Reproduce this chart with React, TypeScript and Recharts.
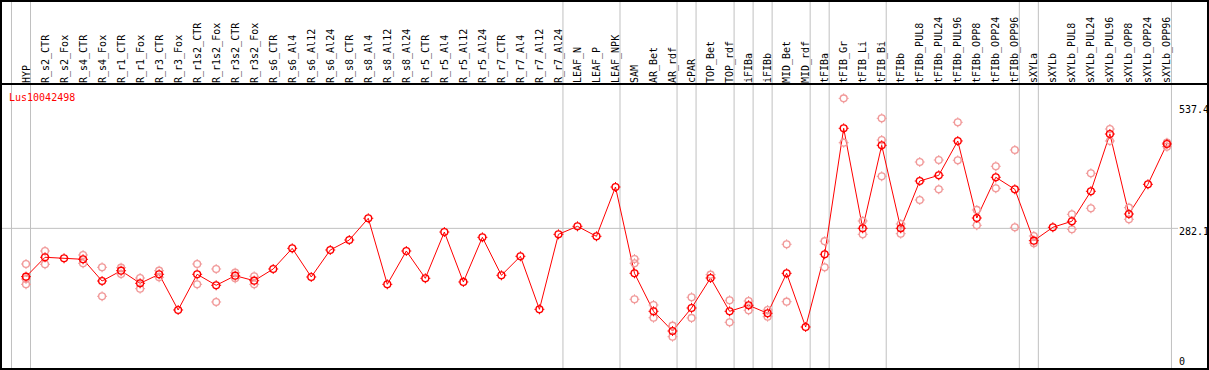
import { ComposedChart, Line, Scatter, XAxis, YAxis, ReferenceLine } from 'recharts';

const sampleName = 'Lus10042498';

const categories = [
  'HYP',
  'R_s2_CTR', 'R_s2_Fox', 'R_s4_CTR', 'R_s4_Fox', 'R_r1_CTR', 'R_r1_Fox', 'R_r3_CTR', 'R_r3_Fox',
  'R_r1s2_CTR', 'R_r1s2_Fox', 'R_r3s2_CTR', 'R_r3s2_Fox',
  'R_s6_CTR', 'R_s6_Al4', 'R_s6_Al12', 'R_s6_Al24', 'R_s8_CTR', 'R_s8_Al4', 'R_s8_Al12', 'R_s8_Al24',
  'R_r5_CTR', 'R_r5_Al4', 'R_r5_Al12', 'R_r5_Al24', 'R_r7_CTR', 'R_r7_Al4', 'R_r7_Al12', 'R_r7_Al24',
  'LEAF_N', 'LEAF_P', 'LEAF_NPK',
  'SAM', 'AR_Bet', 'AR_rdf', 'cPAR', 'TOP_Bet', 'TOP_rdf', 'iFIBa', 'iFIBb', 'MID_Bet', 'MID_rdf',
  'tFIBa', 'tFIB_Gr', 'tFIB_Li', 'tFIB_Bi',
  'tFIBb', 'tFIBb_PUL8', 'tFIBb_PUL24', 'tFIBb_PUL96', 'tFIBb_OPP8', 'tFIBb_OPP24', 'tFIBb_OPP96',
  'sXYLa',
  'sXYLb', 'sXYLb_PUL8', 'sXYLb_PUL24', 'sXYLb_PUL96', 'sXYLb_OPP8', 'sXYLb_OPP24', 'sXYLb_OPP96',
];

const means = [
  187.2, 225.3, 223.3, 221.3, 178.7, 198.9, 174.2, 191.9, 121.8, 191.9,
  170.3, 189.1, 179.3, 202.3, 242.9, 186.6, 239.6, 259.2, 301.9, 172.2,
  237.6, 184.0, 274.9, 176.8, 264.5, 189.9, 227.2, 123.1, 270.4, 286.1,
  266.5, 363.3, 193.8, 119.2, 80.5, 125.7, 184.6, 119.2, 131.0, 115.3,
  193.8, 88.4, 231.2, 478.6, 282.2, 445.2, 282.2, 375.1, 386.3, 453.7,
  302.4, 382.4, 358.8, 257.9, 284.2, 296.0, 354.9, 467.4, 310.3, 368.6,
  447.8,
];

const replicates: number[][] = [
  [212.1, 182.6, 172.2], [237.6, 211.5], [], [229.8, 213.5], [205.6, 148.7],
  [204.8, 192.5], [184.6, 163.6], [198.9, 186.0], [], [212.1, 172.2],
  [202.3, 137.5], [195.0, 184.0], [187.9, 172.2], [], [],
  [], [], [], [], [],
  [], [], [], [], [],
  [], [], [], [], [],
  [], [], [221.9, 213.5, 142.8], [131.6, 106.6], [90.9, 69.3],
  [146.7, 106.1], [191.1], [140.8, 97.6], [139.4, 121.2], [121.8, 108.6],
  [250.8, 138.1], [], [256.9, 205.6], [537.4, 450.3], [296.6, 270.4],
  [498.2, 455.6, 384.3], [290.7, 271.6], [412.4, 337.8], [416.3, 358.8], [490.4, 415.8],
  [318.2, 288.1], [404.0, 360.8], [436.0, 284.2], [267.1, 252.8], [],
  [309.7, 280.3], [390.2, 321.5], [477.2, 453.7], [322.7, 299.9], [],
  [450.3, 442.5],
];

// index of the last category in each group (-1 = left edge)
const groupEnds = [-1, 0, 28, 31, 34, 35, 37, 38, 39, 41, 42, 45, 52, 53, 60];

const yTicks = [0, 282.1, 537.4];

const FONT = '"DejaVu Sans Mono", monospace';
const RED = '#ff0000';
const PINK = '#f19a9a';

const lineData = means.map((m, i) => ({ x: i, mean: m }));
const repData = replicates.flatMap((reps, i) => reps.map((r) => ({ x: i, rep: r })));

function Marker({ cx, cy, color }: { cx: number; cy: number; color: string }) {
  const r = 3.4;
  const t = 5;
  return (
    <g>
      <circle cx={cx} cy={cy} r={r} fill="none" stroke={color} strokeWidth={1.4} />
      <line x1={cx} y1={cy - r} x2={cx} y2={cy - t} stroke={color} strokeWidth={1} />
      <line x1={cx} y1={cy + r} x2={cx} y2={cy + t} stroke={color} strokeWidth={1} />
      <line x1={cx - r} y1={cy} x2={cx - t} y2={cy} stroke={color} strokeWidth={1} />
      <line x1={cx + r} y1={cy} x2={cx + t} y2={cy} stroke={color} strokeWidth={1} />
    </g>
  );
}

function CategoryTick(props: any) {
  const { x, payload } = props;
  const tx = x + 3.5;
  const ty = 83;
  return (
    <text
      x={tx}
      y={ty}
      transform={`rotate(-90, ${tx}, ${ty})`}
      textAnchor="start"
      fontFamily={FONT}
      fontSize={10}
      fill="#000"
    >
      {categories[payload.value]}
    </text>
  );
}

function ValueTick(props: any) {
  const { x, y, payload } = props;
  // keep labels inside the framed plot area
  const baseline = Math.min(Math.max(y + 6.5, 113.3), 365.3);
  return (
    <text x={x} y={baseline} textAnchor="start" fontFamily={FONT} fontSize={10} fill="#000">
      {String(payload.value)}
    </text>
  );
}

export default function App() {
  return (
    <div
      style={{
        position: 'absolute',
        left: 0,
        top: 0,
        width: 1209,
        height: 370,
        overflow: 'hidden',
        background: '#fff',
      }}
    >
      <ComposedChart width={1209} height={372} data={lineData} margin={{ top: 0, right: 0, left: 0, bottom: 0 }}>
        <XAxis
          xAxisId={0}
          orientation="top"
          type="number"
          dataKey="x"
          domain={[-1.3673, 60.581]}
          allowDataOverflow
          ticks={categories.map((_, i) => i)}
          interval={0}
          height={84}
          axisLine={false}
          tickLine={false}
          tick={<CategoryTick />}
        />
        <YAxis
          yAxisId={0}
          orientation="right"
          type="number"
          domain={[0, 565.6]}
          allowDataOverflow
          ticks={yTicks}
          interval={0}
          width={31}
          axisLine={false}
          tickLine={false}
          tickSize={0}
          tickMargin={1}
          tick={<ValueTick />}
        />
        <ReferenceLine y={282.1} stroke="#c0c0c0" strokeWidth={1} />
        {groupEnds.map((g) => (
          <ReferenceLine
            key={g}
            x={g + 0.2366}
            ifOverflow="visible"
            shape={(p: any) => (
              <line x1={p.x1} x2={p.x2} y1={0} y2={370} stroke="#c0c0c0" strokeWidth={1} />
            )}
          />
        ))}
        <Scatter
          data={repData}
          dataKey="rep"
          isAnimationActive={false}
          shape={(p: any) => <Marker cx={p.cx} cy={p.cy} color={PINK} />}
        />
        <Line
          dataKey="mean"
          stroke={RED}
          strokeWidth={1}
          isAnimationActive={false}
          activeDot={false}
          dot={(p: any) => <Marker key={p.index} cx={p.cx} cy={p.cy} color={RED} />}
        />
      </ComposedChart>
      <svg
        width={1209}
        height={370}
        style={{ position: 'absolute', left: 0, top: 0, pointerEvents: 'none' }}
      >
        <rect x={1} y={1} width={1207} height={368} fill="none" stroke="#000" strokeWidth={2} />
        <line x1={0} x2={1209} y1={84} y2={84} stroke="#000" strokeWidth={2} />
        <text x={9} y={100.5} fontFamily={FONT} fontSize={10} fill={RED}>
          {sampleName}
        </text>
      </svg>
    </div>
  );
}
